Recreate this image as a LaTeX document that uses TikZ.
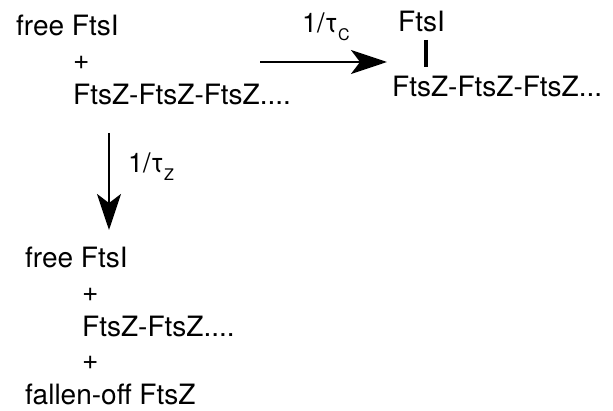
\documentclass[tikz,border=0pt]{standalone}
\usepackage{fontspec}
\setmainfont{TeX Gyre Heros}
\usetikzlibrary{arrows.meta}
\tikzset{
  txt/.style={anchor=base west, inner sep=0pt, font=\fontsize{28}{34}\selectfont},
  rate/.style={anchor=base west, inner sep=0pt, font=\fontsize{27}{32}\selectfont},
  react/.style={line width=2.8pt, -{Stealth[length=36pt, width=24pt, inset=9pt]}},
  bond/.style={line width=4.5pt}
}
\newcommand{\subsc}[1]{\raisebox{-8pt}{\fontsize{16}{18}\selectfont #1}}
\begin{document}
\begin{tikzpicture}[x=1pt, y=-1pt]
\useasboundingbox (0,0) rectangle (613,411);
% top left
\node[txt] (fi1) at (16,36) {free FtsI};
\node[txt] (p1) at (73,70) {+};
\node[txt] (fz1) at (73,105) {FtsZ-FtsZ-FtsZ....};
% top right
\node[txt] (fi2) at (398,32) {FtsI};
\node[txt] (fz2) at (392,97) {FtsZ-FtsZ-FtsZ...};
\coordinate (b1) at (426,40);
\coordinate (b2) at (426,67);
\draw[bond] (b1) -- (b2);
% horizontal arrow
\coordinate (h1) at (260,62);
\coordinate (h2) at (387,62);
\draw[react] (h1) -- (h2);
\node[rate] (rc) at (302,33) {1/τ\subsc{C}};
% vertical arrow
\coordinate (v1) at (109,133);
\coordinate (v2) at (109,230);
\draw[react] (v1) -- (v2);
\node[rate] (rz) at (128,173) {1/τ\subsc{Z}};
% bottom
\node[txt] (fi3) at (25,268) {free FtsI};
\node[txt] (p2) at (82,302) {+};
\node[txt] (fz3) at (82,337) {FtsZ-FtsZ....};
\node[txt] (p3) at (82,370) {+};
\node[txt] (fo) at (25,404) {fallen-off FtsZ};
\end{tikzpicture}
\end{document}
